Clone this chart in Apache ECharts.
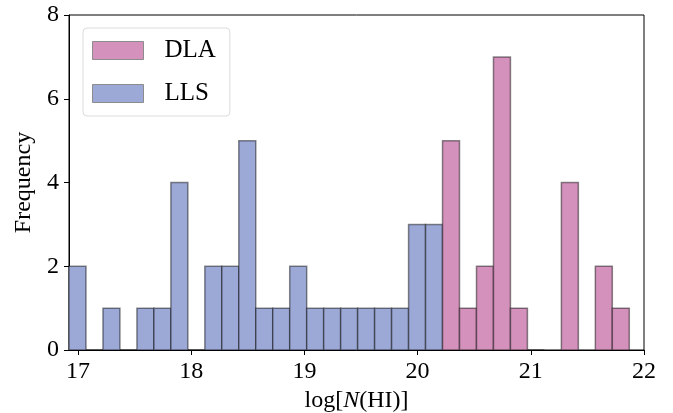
<!DOCTYPE html>
<html>
<head>
<meta charset="utf-8">
<script src="https://cdn.jsdelivr.net/npm/echarts@6/dist/echarts.min.js"></script>
<style>html,body{margin:0;padding:0;background:#fff}#c{width:673px;height:413px}</style>
</head>
<body>
<div id="c"></div>
<script>
// Histogram bin edges (log N(HI))
const binEdges = [16.92,17.07,17.22,17.37,17.52,17.67,17.82,17.97,18.12,18.27,18.42,18.57,18.72,18.87,19.02,19.17,19.32,19.47,19.62,19.77,19.92,20.07,20.22,20.37,20.52,20.67,20.82,20.97,21.12,21.27,21.42,21.57,21.72,21.87];
// Counts per bin (null = no bar)
const llsCounts = [2,0,1,0,1,1,4,0,2,2,5,1,1,2,1,1,1,1,1,1,3,3,null,null,null,null,null,null,null,null,null,null,null];
const dlaCounts = [null,null,null,null,null,null,null,null,null,null,null,null,null,null,null,null,null,null,null,null,null,null,5,1,2,7,1,0,null,4,null,2,1];
const xTicks = [17,18,19,20,21,22];
const yTicks = [0,2,4,6,8];

const FONT = "'Liberation Serif', 'Times New Roman', serif";
const DLA_COLOR = '#d391bb';
const LLS_COLOR = '#9ca8d6';
const EDGE = 'rgba(0,0,0,0.45)';

function toData(counts){
  const out = [];
  counts.forEach((c,i)=>{ if(c!==null) out.push([binEdges[i], binEdges[i+1], c]); });
  return out;
}
function renderBar(params, api){
  const p0 = api.coord([api.value(0), api.value(2)]);
  const p1 = api.coord([api.value(1), 0]);
  return {
    type:'rect',
    shape:{x:p0[0], y:p0[1], width:p1[0]-p0[0], height:p1[1]-p0[1]},
    style:{fill: api.visual('color'), stroke: EDGE, lineWidth: 1.5}
  };
}

const chart = echarts.init(document.getElementById('c'), null, {renderer:'canvas'});
chart.setOption({
  animation:false,
  backgroundColor:'#fff',
  grid:{left:69, right:29, top:15, bottom:63, containLabel:false, outerBoundsMode:'none', show:true, borderColor:'#000', borderWidth:1, backgroundColor:'transparent'},
  legend:{
    orient:'vertical', left:83, top:28,
    padding:[10,14,10,9],
    itemWidth:51, itemHeight:18, itemGap:18,
    backgroundColor:'rgba(255,255,255,0.8)', borderColor:'#dcdcdc', borderWidth:1, borderRadius:4,
    textStyle:{fontFamily:FONT, fontSize:25, color:'#000', padding:[0,0,0,16]},
    data:[
      {name:'DLA', icon:'rect', itemStyle:{color:DLA_COLOR, borderColor:'#8c8c8c', borderWidth:1}},
      {name:'LLS', icon:'rect', itemStyle:{color:LLS_COLOR, borderColor:'#8c8c8c', borderWidth:1}}
    ]
  },
  xAxis:{
    type:'value', min:16.92, max:22,
    axisLine:{show:true, onZero:false, lineStyle:{color:'#000', width:1}},
    axisTick:{show:true, inside:false, length:5, lineStyle:{color:'#000'}, customValues:xTicks},
    axisLabel:{fontFamily:FONT, fontSize:24, color:'#000', margin:10, customValues:xTicks},
    splitLine:{show:false},
    name:'{a|log[}{i|N}{a|(HI)]}', nameLocation:'middle', nameGap:29,
    nameTextStyle:{rich:{a:{fontFamily:FONT, fontSize:24, color:'#000'}, i:{fontFamily:FONT, fontSize:24, fontStyle:'italic', color:'#000'}}}
  },
  yAxis:{
    type:'value', min:0, max:8, interval:2,
    axisLine:{show:true, lineStyle:{color:'#000', width:1}},
    axisTick:{show:true, inside:false, length:5, lineStyle:{color:'#000'}},
    axisLabel:{fontFamily:FONT, fontSize:24, color:'#000', margin:10},
    splitLine:{show:false},
    name:'Frequency', nameLocation:'middle', nameGap:33,
    nameTextStyle:{fontFamily:FONT, fontSize:24, color:'#000'}
  },
  series:[
    {name:'LLS', type:'custom', renderItem:renderBar, itemStyle:{color:LLS_COLOR}, encode:{x:[0,1], y:2}, data:toData(llsCounts)},
    {name:'DLA', type:'custom', renderItem:renderBar, itemStyle:{color:DLA_COLOR}, encode:{x:[0,1], y:2}, data:toData(dlaCounts)}
  ]
});
</script>
</body>
</html>
